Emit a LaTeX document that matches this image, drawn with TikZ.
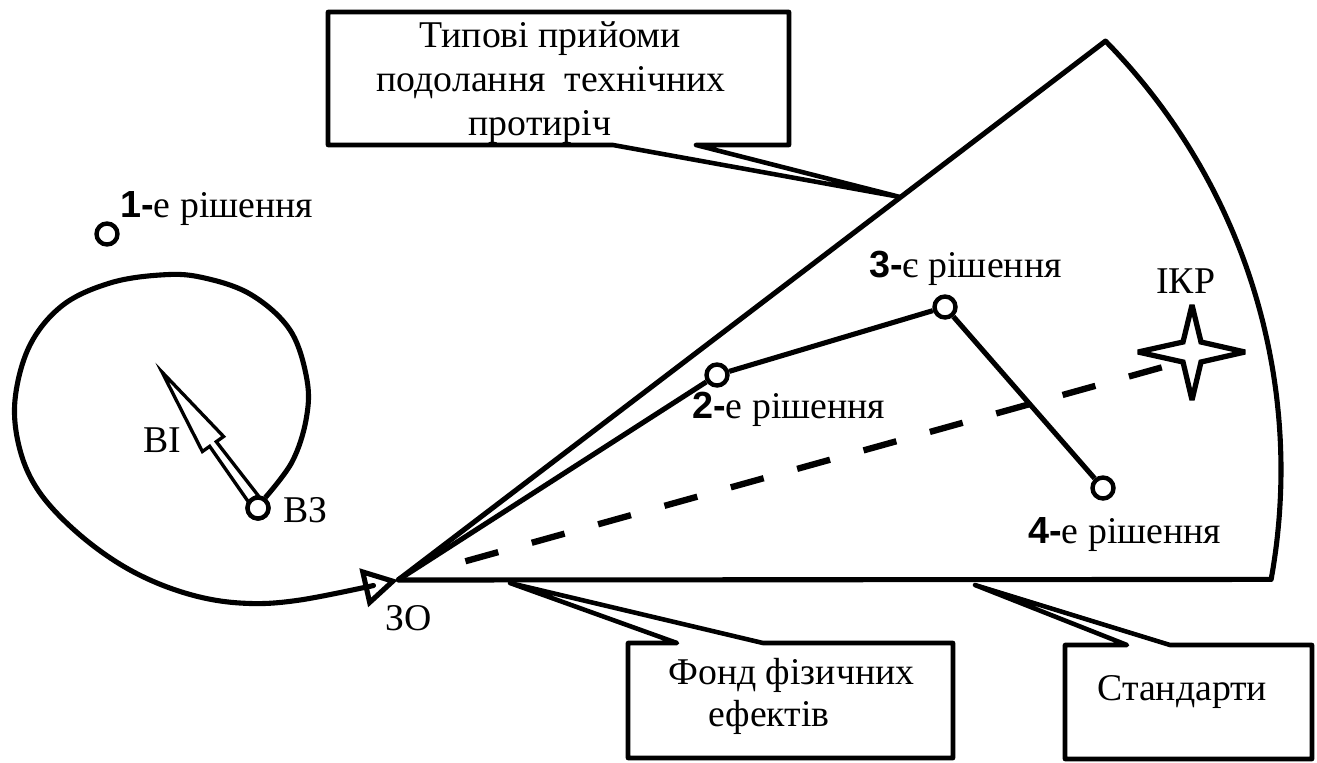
\documentclass[tikz,border=0pt]{standalone}
\usepackage{fontspec}
\setmainfont{Liberation Serif}
\newfontfamily\numfont{Liberation Sans}
\usetikzlibrary{arrows.meta,calc}
\newcommand{\nb}[1]{{\numfont\bfseries #1}}
\begin{document}
\begin{tikzpicture}[x=0.02cm,y=-0.02cm,
  font=\fontsize{21.5}{25}\selectfont,
  edge/.style={line width=2.9pt,line join=round},
  callout/.style={draw,line width=2.6pt,fill=white,line join=round},
  sol/.style={circle,draw,line width=2.5pt,fill=white,minimum size=0.42cm,inner sep=0pt},
  lbl/.style={inner sep=0pt,anchor=base west},
  ctr/.style={inner sep=0pt,anchor=base},
  dashline/.style={line width=3.6pt,dash pattern=on 19.4pt off 19.8pt},
  biarrow/.style={line width=1.9pt,line join=miter,fill=white},
  starline/.style={line width=3pt,line join=miter,miter limit=4,fill=white}]

\useasboundingbox (0,0) rectangle (1317,762);

% key points
\coordinate (zo) at (398,580);
\coordinate (p1) at (900,197);
\coordinate (p2) at (510,583);
\coordinate (p3) at (975,585);
\coordinate (ikr) at (1192,352);
\coordinate (dend) at (1163,367);
\coordinate (bitip) at (162,372);

% callouts
\draw[callout] (328,12) -- (789,12) -- (789,145) -- (696,145) -- (p1) -- (613,145) -- (328,145) -- cycle;
\draw[callout] (628,643) -- (677,643) -- (p2) -- (763,643) -- (953,643) -- (953,758) -- (628,758) -- cycle;
\draw[callout] (1065,645) -- (1127,645) -- (p3) -- (1170,645) -- (1312,645) -- (1312,759) -- (1065,759) -- cycle;

\node[ctr] (t1a) at (550,47) {Типові прийоми};
\node[ctr] (t1b) at (551,91) {подолання~~технічних};
\node[ctr] (t1c) at (540,135) {протиріч};
\node[lbl] (t2a) at (668,684) {Фонд фізичних};
\node[lbl] (t2b) at (708,726) {ефектів};
\node[lbl] (t3) at (1097,700) {Стандарти};

% sector
\draw[edge] (zo) -- plot[domain=-44.5:10.3,samples=80] ({669+612*cos(\x)},{470+612*sin(\x)}) -- cycle;

% dashed line to IKR
\draw[dashline,shorten <=1.4cm] (zo) -- (dend);

% star
\draw[starline] ([shift={(0,-47)}]ikr) -- ([shift={(9,-10)}]ikr) -- ([shift={(53,0)}]ikr)
  -- ([shift={(9,10)}]ikr) -- ([shift={(0,48)}]ikr) -- ([shift={(-9,10)}]ikr)
  -- ([shift={(-54,0)}]ikr) -- ([shift={(-9,-10)}]ikr) -- cycle;

% solution nodes
\node[sol] (s1) at (107,234) {};
\node[sol] (s2) at (717,375) {};
\node[sol] (s3) at (945,307) {};
\node[sol] (s4) at (1103,488) {};
\node[sol] (bz) at (258,508) {};

\draw[edge] (zo) -- (s2) -- (s3) -- (s4);

% loop
\draw[edge,-{Triangle[open,length=20pt,width=22pt]}] plot[smooth,tension=0.6] coordinates {(bz.55) (292,462) (306,420) (307,380) (290,330) (250,294) (200,277) (160,275) (110,283) (63,305) (30,345) (15,400) (20,450) (40,493) (80,535) (130,570) (185,593) (240,603) (300,600) (zo)};

% BI arrow
\draw[biarrow] (bitip) -- (223.6,436.5) -- (216.3,441.7) -- (bz.north) -- (248.7,502.3) -- (209.7,446.3) -- (202.4,451.5) -- cycle;
\node[sol] at (bz) {};

% labels
\node[lbl] (l1) at (120,217) {\nb{1-}е рішення};
\node[lbl] (l2) at (692,418) {\nb{2-}е рішення};
\node[lbl] (l3) at (869,277) {\nb{3-}є рішення};
\node[lbl] (l4) at (1028,543) {\nb{4-}е рішення};
\node[lbl] (lk) at (1156,293) {ІКР};
\node[lbl] (lzo) at (385,630) {ЗО};
\node[lbl] (lbi) at (143,452) {ВІ};
\node[lbl] (lbz) at (283,522) {ВЗ};
\end{tikzpicture}
\end{document}
